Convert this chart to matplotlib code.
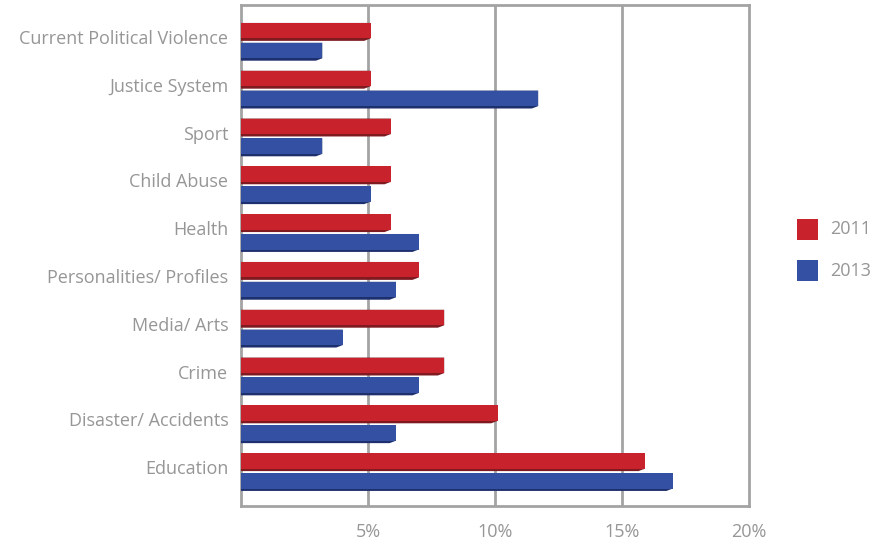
import matplotlib.pyplot as plt
import matplotlib.patches as patches
from matplotlib.patches import Polygon
import numpy as np

plt.rcParams['font.family'] = ['Open Sans', 'DejaVu Sans']

# topic shares (%), listed top to bottom
topics = ['Current Political Violence', 'Justice System', 'Sport', 'Child Abuse',
          'Health', 'Personalities/ Profiles', 'Media/ Arts', 'Crime',
          'Disaster/ Accidents', 'Education']
share_2011 = [5.1, 5.1, 5.9, 5.9, 5.9, 7.0, 8.0, 8.0, 10.1, 15.9]
share_2013 = [3.2, 11.7, 3.2, 5.1, 7.0, 6.1, 4.0, 7.0, 6.1, 17.0]
years = ['2011', '2013']
tick_vals = [5, 10, 15, 20]
tick_labels = ['5%', '10%', '15%', '20%']

red = '#C8232C'
red_dark = '#7E1A20'
blue = '#3350A3'
blue_dark = '#1E2F6E'
text_gray = '#969696'
grid_gray = '#A3A3A3'

W, H = 875, 544
fig = plt.figure(figsize=(W / 100, H / 100), dpi=100)
ax = fig.add_axes([241 / W, 1 - 506 / H, 508 / W, 501 / H])

n = len(topics)
y = np.arange(n)
h = 0.375
gap = 0.04


def bevel_bar(ax, yc, val, color, dark):
    # flat face plus a thin darker strip along the bottom edge with a slanted end
    top = yc - h / 2
    bot = yc + h / 2
    strip = 0.05
    ax.add_patch(Polygon([(0, top), (val, top), (val, bot - strip),
                          (val - 0.25, bot), (0, bot)],
                         closed=True, facecolor=dark, edgecolor='none', zorder=3))
    ax.add_patch(Polygon([(0, top), (val, top), (val, bot - strip), (0, bot - strip)],
                         closed=True, facecolor=color, edgecolor='none', zorder=4))


for i in range(n):
    bevel_bar(ax, y[i] - h / 2 - gap / 2, share_2011[i], red, red_dark)
    bevel_bar(ax, y[i] + h / 2 + gap / 2, share_2013[i], blue, blue_dark)

ax.set_xlim(0, 20)
ax.set_ylim(9.71, -0.77)

ax.set_yticks(y - 0.1)
ax.set_yticklabels(topics)
ax.set_xticks(tick_vals)
ax.set_xticklabels(tick_labels)
ax.tick_params(axis='both', length=0, colors=text_gray, labelsize=13)
ax.tick_params(axis='y', pad=9)
ax.tick_params(axis='x', pad=12)

for v in tick_vals[:-1]:
    ax.axvline(v, color=grid_gray, linewidth=2, zorder=1)

for side in ['left', 'bottom', 'right', 'top']:
    ax.spines[side].set_color(grid_gray)
    ax.spines[side].set_linewidth(2)

# legend drawn as plain squares and labels
for k, (yr, col) in enumerate(zip(years, [red, blue])):
    top_px = 219 + 41 * k
    fig.patches.append(patches.Rectangle((797 / W, 1 - (top_px + 21) / H), 21 / W, 21 / H,
                                         transform=fig.transFigure, facecolor=col,
                                         edgecolor='none'))
    fig.text(830 / W, 1 - (top_px + 10.5) / H, yr, fontsize=13, color=text_gray,
             va='center', ha='left')

fig.savefig('out.png', dpi=100, facecolor='white')
